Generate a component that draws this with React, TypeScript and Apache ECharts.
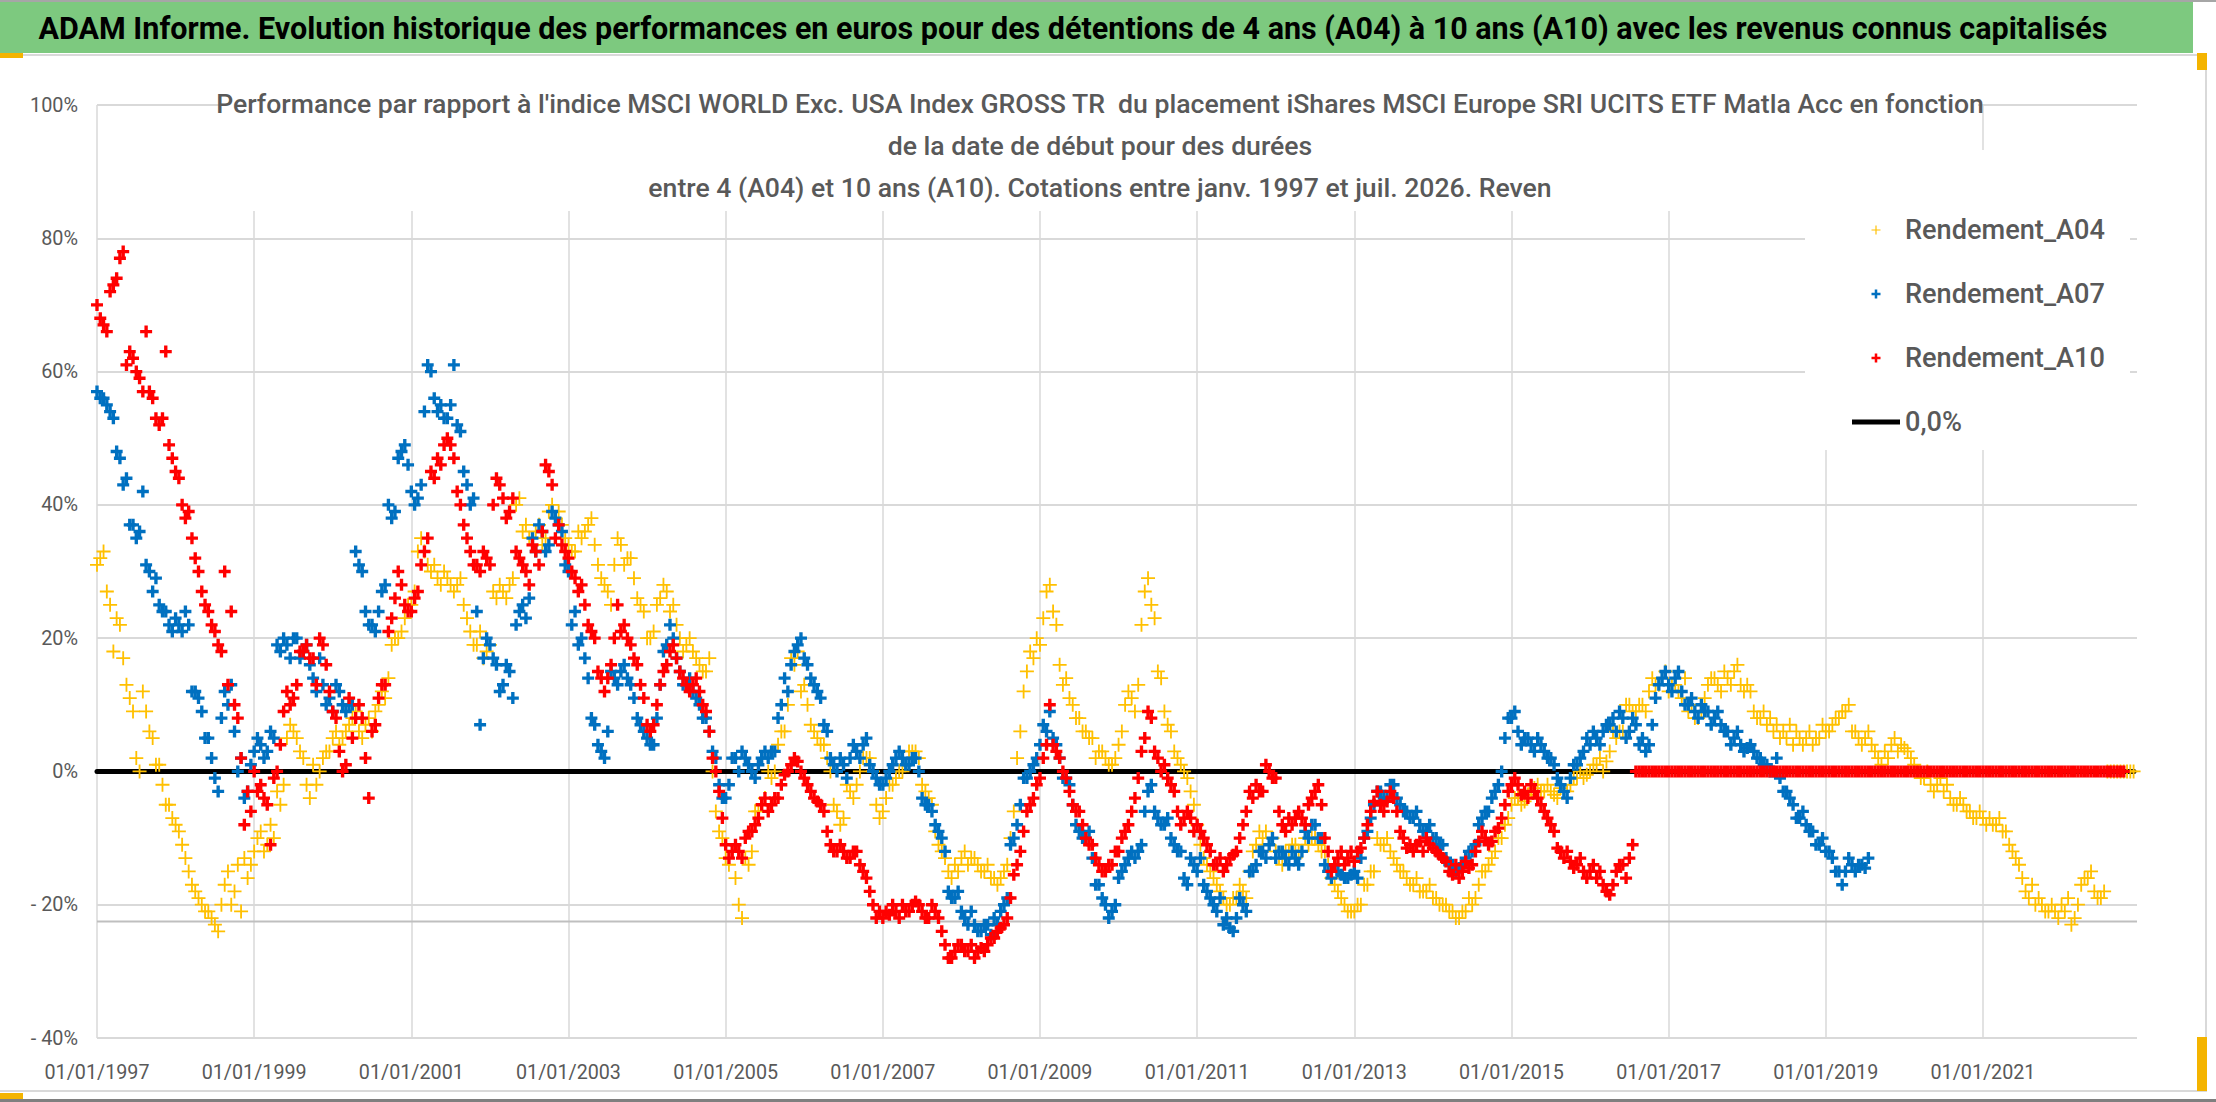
import React, { useEffect, useRef } from "react";
import * as echarts from "echarts";

// ---------- texts ----------
const MAIN_TITLE =
  "ADAM Informe. Evolution historique des performances en euros pour des détentions de 4 ans (A04) à 10 ans (A10) avec les revenus connus capitalisés";
const SUB_LINES = [
  "Performance par rapport à l'indice MSCI WORLD Exc. USA Index GROSS TR  du placement iShares MSCI Europe SRI UCITS ETF Matla Acc en fonction",
  "de la date de début pour des durées",
  "entre 4 (A04) et 10 ans (A10). Cotations entre janv. 1997 et juil. 2026. Reven",
];
const SERIES_NAMES = ["Rendement_A04", "Rendement_A07", "Rendement_A10", "0,0%"];

// ---------- axes ----------
const START_YEAR = 1997; // x values are years since 01/01/1997
const X_MAX = 25.96;
const X_INTERVAL = 2;
const Y_MIN = -0.4;
const Y_MAX = 1.0;
const Y_INTERVAL = 0.2;

// ---------- data: values at the start of each month, from January 1997 ----------
const A04 = [
  0.31, 0.33, 0.25, 0.23, 0.17, 0.11, 0.02, 0.12, 0.06, 0.01, -0.02, -0.05,
  -0.08, -0.11, -0.15, -0.18, -0.2, -0.21, -0.23, -0.2, -0.15, -0.18, -0.21, -0.16,
  -0.12, -0.09, -0.11, -0.1, -0.05, 0.05, 0.06, 0.03, -0.02, 0.01, 0.0, 0.03,
  0.05, 0.04, 0.06, 0.08, 0.06, 0.07, 0.06, 0.1, 0.11, 0.19, 0.2, 0.23,
  0.25, 0.33, 0.33, 0.3, 0.29, 0.3, 0.28, 0.28, 0.25, 0.21, 0.19, 0.17,
  0.19, 0.26, 0.27, 0.28, 0.4, 0.36, 0.35, 0.36, 0.34, 0.39, 0.38, 0.37,
  0.34, 0.33, 0.35, 0.37, 0.34, 0.29, 0.27, 0.31, 0.34, 0.32, 0.29, 0.25,
  0.2, 0.21, 0.26, 0.27, 0.25, 0.2, 0.19, 0.18, 0.16, 0.15, 0.0, -0.09,
  -0.13, -0.12, -0.2, -0.13, -0.12, -0.06, -0.04, -0.01, 0.04, 0.06, 0.17, 0.18,
  0.13, 0.07, 0.05, 0.04, 0.0, -0.06, -0.07, -0.03, -0.02, 0.02, 0.02, -0.05,
  -0.06, -0.02, -0.01, 0.0, 0.03, 0.03, -0.02, -0.04, -0.09, -0.12, -0.15, -0.14,
  -0.13, -0.14, -0.13, -0.15, -0.14, -0.16, -0.16, -0.14, -0.06, 0.06, 0.15, 0.17,
  0.19, 0.27, 0.24, 0.16, 0.14, 0.1, 0.08, 0.06, 0.05, 0.03, 0.02, 0.01,
  0.04, 0.1, 0.11, 0.13, 0.27, 0.25, 0.15, 0.09, 0.06, 0.02, 0.0, -0.03,
  -0.08, -0.13, -0.15, -0.17, -0.19, -0.2, -0.19, -0.18, -0.15, -0.11, -0.1, -0.11,
  -0.12, -0.14, -0.12, -0.11, -0.12, -0.11, -0.1, -0.12, -0.14, -0.17, -0.19, -0.21,
  -0.21, -0.2, -0.17, -0.15, -0.11, -0.1, -0.13, -0.15, -0.16, -0.17, -0.18, -0.18,
  -0.19, -0.2, -0.2, -0.21, -0.22, -0.21, -0.2, -0.17, -0.15, -0.13, -0.1, -0.08,
  -0.05, -0.04, -0.045, -0.03, -0.02, -0.03, -0.03, -0.04, -0.03, -0.02, -0.01, -0.01,
  0.0, 0.01, 0.0, 0.03, 0.05, 0.06, 0.1, 0.09, 0.1, 0.12, 0.13, 0.14,
  0.12, 0.13, 0.11, 0.09, 0.08, 0.09, 0.13, 0.14, 0.12, 0.14, 0.15, 0.13,
  0.13, 0.09, 0.08, 0.07, 0.06, 0.05, 0.05, 0.04, 0.05, 0.05, 0.04, 0.05,
  0.06, 0.07, 0.08, 0.09, 0.06, 0.05, 0.05, 0.04, 0.02, 0.03, 0.04, 0.03,
  0.035, 0.02, 0.0, -0.01, -0.02, -0.02, -0.03, -0.04, -0.05, -0.05, -0.06, -0.07,
  -0.07, -0.07, -0.08, -0.09, -0.11, -0.13, -0.16, -0.19, -0.2, -0.2, -0.21, -0.21,
  -0.2, -0.19, -0.22, -0.17, -0.16, -0.18, -0.19, 0, 0, 0, 0, 0,
];
// values in the middle of each month, from January 1997
const A04_MID = [
  0.32, 0.27, 0.18, 0.22, 0.13, 0.09, 0.0, 0.09, 0.05, 0.01, -0.05, -0.07,
  -0.09, -0.13, -0.17, -0.19, -0.21, -0.22, -0.24, -0.17, -0.2, -0.14, -0.13, -0.14,
  -0.1, -0.12, -0.08, -0.03, -0.02, 0.07, 0.05, 0.02, -0.04, -0.02, 0.02, 0.03,
  0.06, 0.05, 0.07, 0.09, 0.05, 0.08, 0.09, 0.12, 0.14, 0.2, 0.21, 0.25,
  0.27, 0.35, 0.31, 0.31, 0.28, 0.29, 0.27, 0.29, 0.23, 0.19, 0.21, 0.18,
  0.27, 0.28, 0.26, 0.29, 0.41, 0.37, 0.35, 0.37, 0.35, 0.4, 0.39, 0.35,
  0.33, 0.36, 0.36, 0.38, 0.31, 0.28, 0.25, 0.35, 0.31, 0.32, 0.26, 0.24,
  0.2, 0.25, 0.28, 0.24, 0.22, 0.18, 0.2, 0.17, 0.15, 0.17, -0.06, -0.1,
  -0.14, -0.16, -0.22, -0.14, -0.06, -0.05, 0.0, 0.0, 0.06, 0.1, 0.16, 0.12,
  0.1, 0.06, 0.04, 0.02, -0.05, -0.08, -0.02, -0.04, 0.0, 0.02, 0.0, -0.07,
  -0.04, -0.02, 0.0, 0.01, 0.03, 0.02, -0.03, -0.05, -0.11, -0.13, -0.16, -0.15,
  -0.12, -0.13, -0.14, -0.15, -0.16, -0.17, -0.15, -0.1, 0.02, 0.12, 0.18, 0.2,
  0.23, 0.28, 0.22, 0.13, 0.11, 0.08, 0.06, 0.05, 0.02, 0.03, 0.01, 0.02,
  0.06, 0.12, 0.09, 0.22, 0.29, 0.23, 0.14, 0.07, 0.03, 0.01, -0.01, -0.05,
  -0.11, -0.14, -0.16, -0.18, -0.2, -0.19, -0.17, -0.19, -0.12, -0.09, -0.09, -0.1,
  -0.13, -0.12, -0.11, -0.12, -0.1, -0.1, -0.11, -0.12, -0.16, -0.18, -0.2, -0.21,
  -0.2, -0.17, -0.15, -0.1, -0.11, -0.12, -0.14, -0.15, -0.17, -0.16, -0.18, -0.17,
  -0.19, -0.2, -0.21, -0.22, -0.21, -0.19, -0.19, -0.15, -0.14, -0.12, -0.1, -0.07,
  -0.04, -0.05, -0.035, -0.025, -0.03, -0.02, -0.035, -0.025, -0.03, -0.01, 0.0, -0.005,
  0.01, 0.02, 0.015, 0.06, 0.06, 0.1, 0.09, 0.1, 0.09, 0.14, 0.13, 0.15,
  0.13, 0.12, 0.14, 0.1, 0.08, 0.11, 0.14, 0.13, 0.15, 0.13, 0.16, 0.12,
  0.12, 0.08, 0.09, 0.08, 0.07, 0.06, 0.07, 0.06, 0.04, 0.06, 0.05, 0.07,
  0.06, 0.08, 0.09, 0.1, 0.06, 0.04, 0.06, 0.03, 0.01, 0.02, 0.05, 0.04,
  0.03, 0.01, -0.01, 0.0, -0.03, -0.01, -0.02, -0.05, -0.04, -0.06, -0.07, -0.06,
  -0.08, -0.08, -0.07, -0.09, -0.12, -0.14, -0.18, -0.17, -0.19, -0.21, -0.2, -0.22,
  -0.21, -0.23, -0.2, -0.16, -0.15, -0.19, -0.18, 0, 0, 0, 0,
];

const A07 = [
  0.57, 0.56, 0.54, 0.48, 0.43, 0.37, 0.35, 0.42, 0.3, 0.29, 0.24, 0.22,
  0.23, 0.21, 0.22, 0.12, 0.09, 0.05, -0.01, 0.08, 0.1, 0.06, 0.02, -0.03,
  0.03, 0.04, 0.03, 0.05, 0.18, 0.19, 0.2, 0.17, 0.19, 0.14, 0.17, 0.1,
  0.09, 0.12, 0.09, 0.1, 0.31, 0.24, 0.22, 0.24, 0.28, 0.38, 0.47, 0.49,
  0.42, 0.41, 0.54, 0.6, 0.54, 0.53, 0.55, 0.52, 0.45, 0.4, 0.24, 0.17,
  0.19, 0.16, 0.13, 0.15, 0.22, 0.25, 0.26, 0.33, 0.36, 0.34, 0.38, 0.36,
  0.3, 0.24, 0.2, 0.14, 0.07, 0.03, 0.06, 0.14, 0.15, 0.14, 0.11, 0.07,
  0.05, 0.04, 0.13, 0.19, 0.2, 0.15, 0.13, 0.12, 0.1, 0.08, 0.03, -0.02,
  -0.04, 0.02, 0.0, 0.02, 0.0, 0.01, 0.03, 0.03, 0.08, 0.14, 0.16, 0.19,
  0.17, 0.14, 0.12, 0.07, 0.02, 0.0, 0.01, 0.02, 0.03, 0.04, 0.01, -0.01,
  -0.02, 0.0, 0.02, 0.02, 0.01, 0.02, -0.04, -0.05, -0.08, -0.1, -0.18, -0.19,
  -0.21, -0.23, -0.23, -0.24, -0.23, -0.22, -0.21, -0.19, -0.1, -0.05, -0.01, 0.01,
  0.04, 0.06, 0.05, 0.02, -0.01, -0.05, -0.09, -0.1, -0.13, -0.17, -0.2, -0.21,
  -0.16, -0.14, -0.12, -0.12, -0.06, -0.02, -0.07, -0.08, -0.1, -0.12, -0.16, -0.13,
  -0.15, -0.17, -0.19, -0.21, -0.23, -0.235, -0.22, -0.2, -0.15, -0.14, -0.12, -0.11,
  -0.13, -0.12, -0.14, -0.13, -0.12, -0.1, -0.08, -0.1, -0.15, -0.14, -0.155, -0.16,
  -0.15, -0.13, -0.09, -0.05, -0.03, -0.04, -0.02, -0.05, -0.06, -0.07, -0.08, -0.09,
  -0.1, -0.11, -0.13, -0.14, -0.145, -0.13, -0.12, -0.08, -0.06, -0.04, -0.02, 0.05,
  0.08, 0.06, 0.05, 0.04, 0.05, 0.03, 0.02, -0.01, -0.03, -0.01, 0.01, 0.03,
  0.04, 0.05, 0.06, 0.07, 0.06, 0.08, 0.06, 0.07, 0.05, 0.04, 0.11, 0.14,
  0.13, 0.14, 0.12, 0.1, 0.09, 0.1, 0.09, 0.08, 0.07, 0.06, 0.05, 0.04,
  0.035, 0.03, 0.02, 0.01, 0.0, -0.01, -0.03, -0.05, -0.07, -0.08, -0.09, -0.11,
  -0.12, -0.13, -0.15, -0.15, -0.14, -0.14, -0.145,
];
const A07_MID = [
  0.56, 0.55, 0.53, 0.47, 0.44, 0.37, 0.36, 0.31, 0.27, 0.25, 0.24, 0.21,
  0.22, 0.24, 0.12, 0.11, 0.05, 0.02, -0.03, 0.12, 0.13, 0.0, -0.04, 0.01,
  0.05, 0.02, 0.06, 0.19, 0.2, 0.17, 0.2, 0.18, 0.16, 0.12, 0.13, 0.11,
  0.13, 0.1, 0.1, 0.33, 0.3, 0.22, 0.21, 0.27, 0.4, 0.39, 0.48, 0.46,
  0.4, 0.43, 0.61, 0.56, 0.55, 0.53, 0.61, 0.51, 0.43, 0.41, 0.07, 0.2,
  0.17, 0.12, 0.16, 0.11, 0.24, 0.23, 0.35, 0.37, 0.33, 0.39, 0.37, 0.31,
  0.22, 0.19, 0.17, 0.08, 0.04, 0.02, 0.15, 0.13, 0.16, 0.13, 0.08, 0.06,
  0.04, 0.08, 0.18, 0.22, 0.17, 0.13, 0.14, 0.11, 0.08, 0.06, 0.02, -0.04,
  -0.02, 0.02, 0.03, 0.01, -0.01, 0.02, 0.02, 0.03, 0.1, 0.12, 0.18, 0.2,
  0.16, 0.13, 0.11, 0.06, 0.01, 0.02, -0.01, 0.04, 0.02, 0.05, 0.0, -0.02,
  -0.01, 0.01, 0.03, 0.01, 0.02, 0.0, -0.05, -0.06, -0.09, -0.12, -0.19, -0.18,
  -0.22, -0.21, -0.24, -0.23, -0.245, -0.23, -0.2, -0.11, -0.08, -0.01, 0.0, 0.02,
  0.07, 0.09, 0.04, -0.01, -0.02, -0.08, -0.1, -0.09, -0.17, -0.19, -0.22, -0.2,
  -0.15, -0.13, -0.13, -0.11, -0.03, -0.06, -0.08, -0.07, -0.11, -0.12, -0.17, -0.14,
  -0.13, -0.18, -0.2, -0.19, -0.22, -0.24, -0.19, -0.21, -0.15, -0.12, -0.13, -0.1,
  -0.12, -0.13, -0.12, -0.14, -0.09, -0.08, -0.1, -0.14, -0.16, -0.15, -0.16, -0.155,
  -0.16, -0.1, -0.07, -0.03, -0.04, -0.02, -0.04, -0.06, -0.07, -0.06, -0.09, -0.08,
  -0.1, -0.11, -0.14, -0.15, -0.14, -0.12, -0.11, -0.07, -0.06, -0.03, 0.0, 0.08,
  0.09, 0.04, 0.05, 0.03, 0.04, 0.02, 0.01, -0.02, -0.04, 0.01, 0.02, 0.05,
  0.06, 0.04, 0.07, 0.08, 0.09, 0.05, 0.08, 0.04, 0.03, 0.07, 0.13, 0.15,
  0.12, 0.15, 0.1, 0.11, 0.08, 0.09, 0.07, 0.09, 0.06, 0.04, 0.06, 0.03,
  0.04, 0.02, 0.01, 0.0, 0.02, -0.03, -0.04, -0.07, -0.06, -0.09, -0.11, -0.1,
  -0.12, -0.15, -0.17, -0.13, -0.15, -0.14, -0.13,
];

const A10 = [
  0.7, 0.67, 0.72, 0.74, 0.78, 0.63, 0.6, 0.57, 0.57, 0.53, 0.53, 0.49,
  0.45, 0.4, 0.39, 0.32, 0.27, 0.24, 0.21, 0.18, 0.13, 0.1, 0.02, -0.03,
  0.0, -0.02, -0.05, -0.01, 0.04, 0.12, 0.11, 0.18, 0.19, 0.17, 0.2, 0.16,
  0.09, 0.03, 0.01, 0.05, 0.1, 0.02, 0.06, 0.11, 0.13, 0.23, 0.3, 0.25,
  0.24, 0.27, 0.33, 0.45, 0.47, 0.49, 0.49, 0.42, 0.37, 0.33, 0.31, 0.33,
  0.31, 0.44, 0.41, 0.39, 0.33, 0.31, 0.28, 0.33, 0.36, 0.45, 0.35, 0.34,
  0.32, 0.29, 0.28, 0.22, 0.2, 0.14, 0.14, 0.2, 0.21, 0.2, 0.17, 0.13,
  0.07, 0.07, 0.13, 0.16, 0.19, 0.15, 0.13, 0.13, 0.12, 0.09, 0.02, -0.03,
  -0.11, -0.12, -0.12, -0.1, -0.09, -0.07, -0.04, -0.05, -0.04, -0.005, 0.01, 0.015,
  -0.01, -0.03, -0.045, -0.06, -0.11, -0.12, -0.12, -0.13, -0.12, -0.15, -0.18, -0.22,
  -0.22, -0.215, -0.21, -0.2, -0.21, -0.195, -0.21, -0.22, -0.21, -0.24, -0.28, -0.27,
  -0.26, -0.27, -0.28, -0.265, -0.26, -0.25, -0.235, -0.22, -0.155, -0.12, -0.06, -0.04,
  -0.01, 0.04, 0.04, 0.02, -0.01, -0.05, -0.06, -0.1, -0.11, -0.14, -0.15, -0.14,
  -0.12, -0.09, -0.06, -0.01, 0.05, 0.08, 0.02, 0.01, -0.02, -0.06, -0.07, -0.07,
  -0.08, -0.1, -0.12, -0.14, -0.15, -0.13, -0.12, -0.08, -0.03, -0.02, -0.03, 0.0,
  -0.01, -0.08, -0.07, -0.07, -0.07, -0.05, -0.03, -0.05, -0.12, -0.14, -0.12, -0.13,
  -0.135, -0.115, -0.08, -0.045, -0.05, -0.045, -0.04, -0.09, -0.115, -0.12, -0.105, -0.1,
  -0.115, -0.125, -0.135, -0.155, -0.16, -0.135, -0.14, -0.105, -0.1, -0.105, -0.085, -0.05,
  -0.02, -0.02, -0.03, -0.02, -0.04, -0.06, -0.08, -0.115, -0.13, -0.135, -0.14, -0.15,
  -0.15, -0.16, -0.17, -0.185, -0.15, -0.14, -0.13, 0, 0, 0, 0, 0,
  0, 0, 0, 0, 0, 0, 0, 0, 0, 0, 0, 0,
  0, 0, 0, 0, 0, 0, 0, 0, 0, 0, 0, 0,
  0, 0, 0, 0, 0, 0, 0, 0, 0, 0, 0, 0,
  0, 0, 0, 0, 0, 0, 0, 0, 0, 0, 0, 0,
  0, 0, 0, 0, 0, 0, 0, 0, 0, 0, 0, 0,
  0, 0, 0, 0, 0, 0, 0, 0, 0, 0,
];
const A10_MID = [
  0.68, 0.66, 0.73, 0.77, 0.61, 0.62, 0.59, 0.66, 0.56, 0.52, 0.63, 0.47,
  0.44, 0.38, 0.35, 0.3, 0.25, 0.22, 0.19, 0.3, 0.24, 0.08, -0.08, -0.06,
  -0.03, -0.04, -0.11, 0.0, 0.09, 0.1, 0.13, 0.18, 0.17, 0.13, 0.19, 0.12,
  0.08, 0.0, 0.11, 0.08, 0.08, -0.04, 0.07, 0.13, 0.21, 0.26, 0.28, 0.24,
  0.26, 0.31, 0.35, 0.44, 0.46, 0.5, 0.47, 0.4, 0.35, 0.31, 0.3, 0.32,
  0.4, 0.43, 0.38, 0.41, 0.32, 0.3, 0.34, 0.31, 0.46, 0.43, 0.37, 0.33,
  0.3, 0.27, 0.25, 0.21, 0.15, 0.12, 0.16, 0.25, 0.22, 0.19, 0.16, 0.11,
  0.06, 0.1, 0.15, 0.18, 0.17, 0.14, 0.12, 0.14, 0.1, 0.06, 0.0, -0.07,
  -0.13, -0.11, -0.13, -0.09, -0.08, -0.05, -0.06, -0.04, -0.02, 0.0, 0.02, 0.0,
  -0.02, -0.04, -0.05, -0.09, -0.12, -0.11, -0.13, -0.12, -0.14, -0.16, -0.2, -0.21,
  -0.21, -0.2, -0.22, -0.21, -0.2, -0.2, -0.22, -0.2, -0.22, -0.26, -0.28, -0.26,
  -0.27, -0.26, -0.27, -0.27, -0.25, -0.24, -0.23, -0.19, -0.14, -0.09, -0.05, -0.02,
  0.02, 0.1, 0.03, 0.0, -0.03, -0.06, -0.08, -0.11, -0.13, -0.15, -0.14, -0.12,
  -0.1, -0.08, -0.04, 0.03, 0.09, 0.03, 0.0, -0.01, -0.03, -0.08, -0.06, -0.09,
  -0.09, -0.11, -0.14, -0.13, -0.14, -0.125, -0.1, -0.06, -0.04, -0.03, 0.01, -0.01,
  -0.06, -0.09, -0.08, -0.06, -0.08, -0.04, -0.02, -0.1, -0.15, -0.13, -0.14, -0.12,
  -0.12, -0.1, -0.06, -0.03, -0.06, -0.03, -0.06, -0.1, -0.11, -0.11, -0.12, -0.11,
  -0.12, -0.13, -0.15, -0.14, -0.15, -0.145, -0.12, -0.09, -0.11, -0.09, -0.07, -0.03,
  -0.01, -0.035, -0.04, -0.03, -0.05, -0.07, -0.09, -0.12, -0.12, -0.145, -0.13, -0.16,
  -0.14, -0.15, -0.18, -0.17, -0.14, -0.16, -0.11, 0, 0, 0, 0, 0,
  0, 0, 0, 0, 0, 0, 0, 0, 0, 0, 0, 0,
  0, 0, 0, 0, 0, 0, 0, 0, 0, 0, 0, 0,
  0, 0, 0, 0, 0, 0, 0, 0, 0, 0, 0, 0,
  0, 0, 0, 0, 0, 0, 0, 0, 0, 0, 0, 0,
  0, 0, 0, 0, 0, 0, 0, 0, 0, 0, 0, 0,
  0, 0, 0, 0, 0, 0, 0, 0, 0, 0,
];

const ZERO_LINE_X = [0, 25.92];
const ZERO_LINE_Y = [0, 0];
const FLOOR_LINE_Y = -0.225;

// ---------- styles ----------
const FONT = "Roboto, 'Noto Sans', sans-serif";
const C_A04 = "#ffc000";
const C_A07 = "#0070c0";
const C_A10 = "#ff0000";
const GREY_TEXT = "#595959";
const GRID = "#d9d9d9";

const PLUS_THIN = "path://M0,4.35L10,4.35L10,5.65L0,5.65Z M4.35,0L5.65,0L5.65,10L4.35,10Z";
const PLUS_BOLD = "path://M0,3.6L10,3.6L10,6.4L0,6.4Z M3.6,0L6.4,0L6.4,10L3.6,10Z";
const LINE_ICON = "path://M0,0L48,0L48,5L0,5Z";

function fitSize(text: string, weight: string, width: number): number {
  const ctx = document.createElement("canvas").getContext("2d");
  if (!ctx) return 20;
  ctx.font = `${weight} 100px ${FONT}`;
  return (100 * width) / ctx.measureText(text).width;
}

const withMid = (start: number[], mid: number[]) => [
  ...start.map((v, i) => [i / 12, v]),
  ...mid.map((v, i) => [(i + 0.5) / 12, v]),
];

function buildOption() {
  const titleSize = fitSize(MAIN_TITLE, "bold", 2069);
  const subSize = fitSize(SUB_LINES[0], "500", 1769);
  const legendSize = fitSize("Rendement_A04", "500", 200);
  const xLabSize = fitSize("01/01/1997", "normal", 105);
  const yLabSize = fitSize("100%", "normal", 48);

  const subY = [103, 145, 187];

  return {
    animation: false,
    backgroundColor: "#ffffff",
    textStyle: { fontFamily: FONT },
    grid: { left: 97, right: 79, top: 105, bottom: 64, containLabel: false },
    xAxis: {
      type: "value",
      min: 0,
      max: X_MAX,
      interval: X_INTERVAL,
      axisLine: { show: false },
      axisTick: { show: false },
      splitLine: { show: true, showMaxLine: false, lineStyle: { color: GRID, width: 1.5 } },
      axisLabel: {
        showMaxLabel: false,
        color: GREY_TEXT,
        fontSize: xLabSize,
        fontFamily: FONT,
        margin: 24,
        formatter: (v: number) => `01/01/${START_YEAR + Math.round(v)}`,
      },
    },
    yAxis: {
      type: "value",
      min: Y_MIN,
      max: Y_MAX,
      interval: Y_INTERVAL,
      axisLine: { show: false },
      axisTick: { show: false },
      splitLine: { show: true, lineStyle: { color: GRID, width: 2 } },
      axisLabel: {
        color: GREY_TEXT,
        fontSize: yLabSize,
        fontFamily: FONT,
        margin: 19,
        formatter: (v: number) => {
          const p = Math.round(v * 100);
          return p < 0 ? `- ${-p}%` : `${p}%`;
        },
      },
    },
    legend: {
      orient: "vertical",
      left: 1847,
      top: 209,
      itemWidth: 48,
      itemHeight: 9,
      itemGap: 32,
      z: 10,
      textStyle: {
        fontSize: legendSize,
        fontWeight: 500,
        color: GREY_TEXT,
        lineHeight: 32,
        fontFamily: FONT,
      },
      data: [
        { name: SERIES_NAMES[0], icon: PLUS_THIN },
        { name: SERIES_NAMES[1], icon: PLUS_BOLD },
        { name: SERIES_NAMES[2], icon: PLUS_BOLD },
        { name: SERIES_NAMES[3], icon: LINE_ICON },
      ],
    },
    graphic: [
      { type: "rect", z: 20, shape: { x: 0, y: 0, width: 2216, height: 2 }, style: { fill: "#a6a6a6" } },
      { type: "rect", z: 20, shape: { x: 0, y: 2, width: 2193, height: 51 }, style: { fill: "#7dc97f" } },
      { type: "rect", z: 20, shape: { x: 0, y: 54, width: 2207, height: 2 }, style: { fill: GRID } },
      { type: "rect", z: 20, shape: { x: 2205, y: 54, width: 2, height: 1038 }, style: { fill: GRID } },
      { type: "rect", z: 20, shape: { x: 0, y: 1090, width: 2207, height: 2 }, style: { fill: GRID } },
      { type: "rect", z: 20, shape: { x: 0, y: 1099, width: 2216, height: 3 }, style: { fill: "#7f7f7f" } },
      { type: "rect", z: 21, shape: { x: 0, y: 53, width: 23, height: 5 }, style: { fill: "#f4b400" } },
      { type: "rect", z: 21, shape: { x: 2197, y: 53, width: 10, height: 17 }, style: { fill: "#f4b400" } },
      { type: "rect", z: 21, shape: { x: 2197, y: 1037, width: 10, height: 54 }, style: { fill: "#f4b400" } },
      { type: "rect", z: 21, shape: { x: 0, y: 1093, width: 23, height: 6 }, style: { fill: "#f4b400" } },
      {
        type: "text",
        z: 22,
        x: 1073,
        y: 28,
        style: {
          text: MAIN_TITLE,
          fill: "#000000",
          fontSize: titleSize,
          fontWeight: "bold",
          fontFamily: FONT,
          align: "center",
          verticalAlign: "middle",
        },
      },
      // white box behind chart title (hides gridlines)
      { type: "rect", z: 5, shape: { x: 224, y: 84, width: 1754, height: 127 }, style: { fill: "#ffffff" } },
      ...SUB_LINES.map((t, i) => ({
        type: "text",
        z: 6,
        x: 1100,
        y: subY[i],
        style: {
          text: t,
          fill: GREY_TEXT,
          fontSize: subSize,
          fontWeight: 500,
          fontFamily: FONT,
          align: "center",
          verticalAlign: "middle",
        },
      })),
      // white box behind legend
      { type: "rect", z: 5, shape: { x: 1805, y: 150, width: 325, height: 300 }, style: { fill: "#ffffff" } },
    ],
    series: [
      {
        name: "floor",
        type: "line",
        silent: true,
        symbol: "none",
        z: 1,
        data: [
          [0, FLOOR_LINE_Y],
          [X_MAX, FLOOR_LINE_Y],
        ],
        lineStyle: { color: "#bfbfbf", width: 2 },
      },
      {
        name: SERIES_NAMES[3],
        type: "line",
        symbol: "none",
        z: 1,
        data: ZERO_LINE_X.map((x, i) => [x, ZERO_LINE_Y[i]]),
        lineStyle: { color: "#000000", width: 5, cap: "round" },
        itemStyle: { color: "#000000" },
      },
      {
        name: SERIES_NAMES[0],
        type: "scatter",
        symbol: PLUS_THIN,
        symbolSize: 14,
        z: 2,
        data: withMid(A04, A04_MID),
        itemStyle: { color: C_A04, opacity: 1 },
      },
      {
        name: SERIES_NAMES[1],
        type: "scatter",
        symbol: PLUS_BOLD,
        symbolSize: 12,
        z: 2,
        data: withMid(A07, A07_MID),
        itemStyle: { color: C_A07, opacity: 1 },
      },
      {
        name: SERIES_NAMES[2],
        type: "scatter",
        symbol: PLUS_BOLD,
        symbolSize: 12,
        z: 2,
        data: withMid(A10, A10_MID),
        itemStyle: { color: C_A10, opacity: 1 },
      },
    ],
  };
}

export default function App() {
  const ref = useRef<HTMLDivElement>(null);
  useEffect(() => {
    document.body.style.margin = "0";
    if (!ref.current) return;
    const chart = echarts.init(ref.current, null, { renderer: "svg", width: 2216, height: 1102 });
    chart.setOption(buildOption() as any);
    return () => chart.dispose();
  }, []);
  return <div ref={ref} style={{ width: 2216, height: 1102 }} />;
}
